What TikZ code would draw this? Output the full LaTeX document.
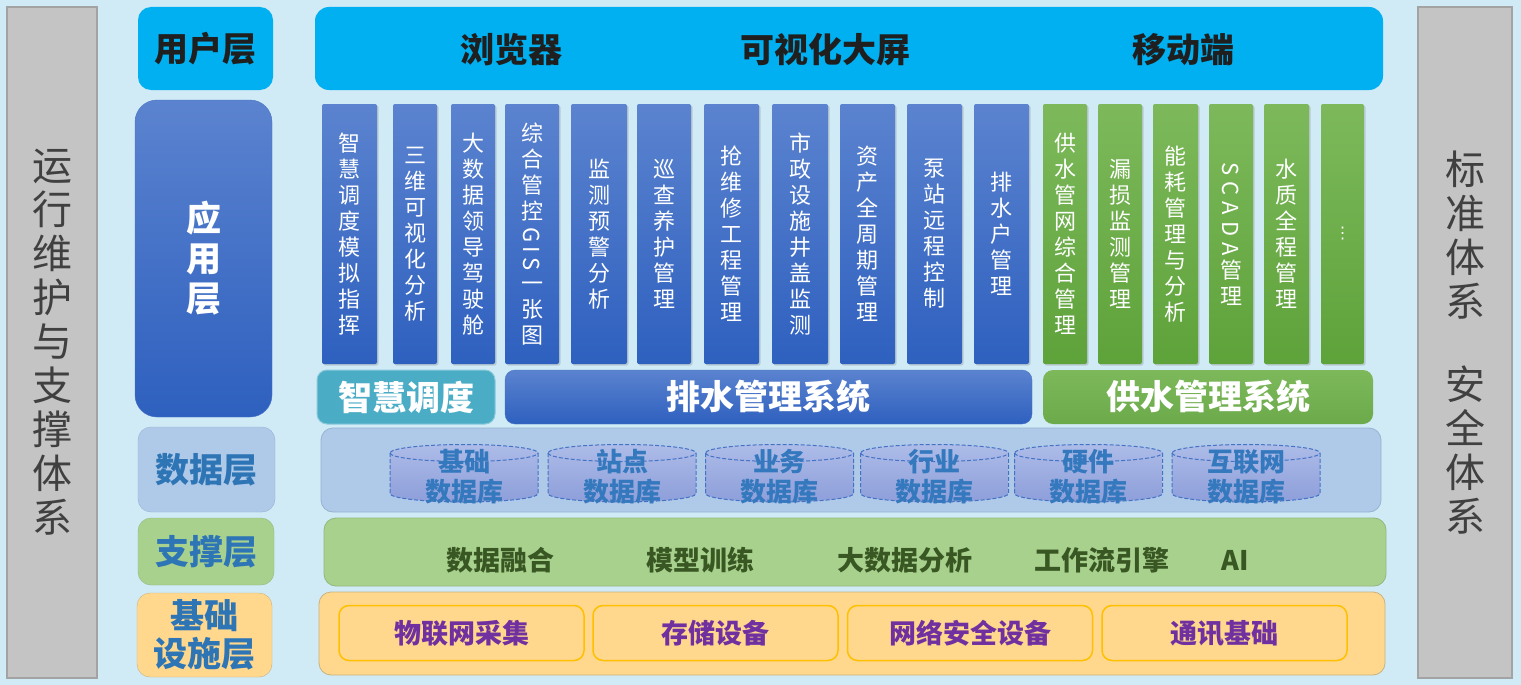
\documentclass[tikz,border=0pt]{standalone}
\usepackage{fontspec}
\usepackage{graphicx}
\setmainfont{Noto Sans CJK SC}
\newfontfamily\dejavu{DejaVu Sans}
\usetikzlibrary{shadows}
\definecolor{bg}{HTML}{D0EAF6}
\definecolor{grayfill}{HTML}{C4C4C4}
\definecolor{grayline}{HTML}{A3A3A3}
\definecolor{cyanbox}{HTML}{00B0F0}
\definecolor{appTop}{HTML}{5B83CF}
\definecolor{appBot}{HTML}{2E60BF}
\definecolor{appBorder}{HTML}{4A74C4}
\definecolor{grTop}{HTML}{7DB95B}
\definecolor{grBot}{HTML}{5EA23A}
\definecolor{tealfill}{HTML}{4BACC6}
\definecolor{tealBorder}{HTML}{8ACADB}
\definecolor{dataFill}{HTML}{AFC9E8}
\definecolor{dataBorder}{HTML}{98B2D2}
\definecolor{supFill}{HTML}{A9D18E}
\definecolor{supBorder}{HTML}{93B87C}
\definecolor{infFill}{HTML}{FFD88E}
\definecolor{infBorder}{HTML}{C9B27E}
\definecolor{gold}{HTML}{FFC000}
\definecolor{blueText}{HTML}{2E75B6}
\definecolor{cylText}{HTML}{3478BD}
\definecolor{greenText}{HTML}{385723}
\definecolor{purpleText}{HTML}{7030A0}
\definecolor{sideText}{HTML}{404040}
\definecolor{cylTop}{HTML}{ADBCE8}
\definecolor{cylBot}{HTML}{8D9EDA}
\definecolor{cylLine}{HTML}{4472C4}
\newcommand\vrot[1]{\raisebox{0.8em}{\rotatebox{-90}{#1}}}
\newcommand\colfont{\fontsize{22}{26}\selectfont\lineskip=4pt\relax\lineskiplimit=0pt\relax}
\newcommand\cyl[4]{%
  \path[top color=cylTop, bottom color=cylBot] (#2-74,453) -- (#2-74,493.5)
     arc[start angle=180, end angle=0, x radius=74, y radius=8.5] -- (#2+74,453)
     arc[start angle=0, end angle=-180, x radius=74, y radius=8.5] -- cycle;
  \draw[cylline] (#2-74,453) -- (#2-74,493.5)
     arc[start angle=180, end angle=0, x radius=74, y radius=8.5] -- (#2+74,453)
     arc[start angle=0, end angle=-180, x radius=74, y radius=8.5] -- cycle;
  \draw[cylline] (#2-74,453) arc[start angle=180, end angle=0, x radius=74, y radius=8.5];
  \node[cyltext] (#1a) at (#2,462) {#3};
  \node[cyltext] (#1b) at (#2,491.5) {#4};
}
\begin{document}
\begin{tikzpicture}[x=1pt,y=-1pt,
  every node/.style={inner sep=0pt, outer sep=0pt},
  sidebar/.style={rectangle, fill=grayfill, draw=grayline, line width=1.5pt, text=sideText, align=center, font=\fontsize{40}{44}\selectfont},
  layerlabel/.style={rectangle, rounded corners=13pt, align=center, font=\bfseries\fontsize{34}{38}\selectfont},
  bartext/.style={text=black!88, font=\bfseries\fontsize{34}{38}\selectfont},
  appcol/.style={rectangle, rounded corners=2pt, minimum height=260pt, align=center, text=white, font=\colfont,
     drop shadow={shadow xshift=1.5pt, shadow yshift=-1.5pt, opacity=0.3}},
  bluecol/.style={appcol, top color=appTop, bottom color=appBot},
  greencol/.style={appcol, top color=grTop, bottom color=grBot},
  sysbar/.style={rectangle, rounded corners=10pt, minimum height=54pt, text=white, font=\bfseries\fontsize{34}{38}\selectfont},
  panel/.style={rectangle, rounded corners=12pt, line width=0.8pt},
  cylline/.style={draw=cylLine, line width=1pt, dash pattern=on 4pt off 2pt},
  cyltext/.style={text=cylText, font=\bfseries\fontsize{26}{30}\selectfont},
  suptext/.style={text=greenText, font=\bfseries\fontsize{27}{30}\selectfont},
  infbox/.style={rectangle, rounded corners=10pt, fill=infFill, draw=gold, line width=1.5pt, minimum width=245pt, minimum height=55pt, text=purpleText, font=\bfseries\fontsize{27}{30}\selectfont}
]
\useasboundingbox (0,0) rectangle (1521,685);
\fill[bg] (0,0) rectangle (1521,685);

% side bars
\node[sidebar, minimum width=90pt, minimum height=671pt] (ops) at (52,342.5) {运\\行\\维\\护\\与\\支\\撑\\体\\系};
\node[sidebar, minimum width=94pt, minimum height=671pt] (std) at (1465,342.5) {标\\准\\体\\系\\[39pt]安\\全\\体\\系};

% user layer
\node[layerlabel, fill=cyanbox, minimum width=135pt, minimum height=83pt, text=black!88] (user) at (205.5,48.5) {用户层};
\node[rectangle, rounded corners=14pt, fill=cyanbox, minimum width=1068pt, minimum height=83pt] (userbar) at (849,48.5) {};
\node[bartext] (browser) at (511,50) {浏览器};
\node[bartext] (screen) at (825,50) {可视化大屏};
\node[bartext] (mobile) at (1183,50) {移动端};

% application layer
\node[layerlabel, rounded corners=22pt, top color=appTop, bottom color=appBot, draw=appBorder, minimum width=137pt, minimum height=317pt, text=white, font=\bfseries\fontsize{35}{40}\selectfont] (app) at (203.5,258.5) {应\\用\\层};

\node[bluecol, minimum width=55pt] (c1) at (349.5,234) {智\\慧\\调\\度\\模\\拟\\指\\挥};
\node[bluecol, minimum width=44pt] (c2) at (415,234) {三\\维\\可\\视\\化\\分\\析};
\node[bluecol, minimum width=44pt] (c3) at (473,234) {大\\数\\据\\领\\导\\驾\\驶\\舱};
\node[bluecol, minimum width=54pt] (c4) at (532,234) {综\\合\\管\\控\\\vrot{G\hspace{4pt}I\hspace{4pt}S}\\\vphantom{图}一\\张\\图};
\node[bluecol, minimum width=56pt] (c5) at (599,234) {监\\测\\预\\警\\分\\析};
\node[bluecol, minimum width=54pt] (c6) at (664,234) {巡\\查\\养\\护\\管\\理};
\node[bluecol, minimum width=55pt] (c7) at (731.5,234) {抢\\维\\修\\工\\程\\管\\理};
\node[bluecol, minimum width=56pt] (c8) at (800,234) {市\\政\\设\\施\\井\\盖\\监\\测};
\node[bluecol, minimum width=55pt] (c9) at (867.5,234) {资\\产\\全\\周\\期\\管\\理};
\node[bluecol, minimum width=55pt] (c10) at (934.5,234) {泵\\站\\远\\程\\控\\制};
\node[bluecol, minimum width=55pt] (c11) at (1001.5,234) {排\\水\\户\\管\\理};
\node[greencol, minimum width=44pt] (c12) at (1065,234) {供\\水\\管\\网\\综\\合\\管\\理};
\node[greencol, minimum width=44pt] (c13) at (1120,234) {漏\\损\\监\\测\\管\\理};
\node[greencol, minimum width=45pt] (c14) at (1175.5,234) {能\\耗\\管\\理\\与\\分\\析};
\node[greencol, minimum width=44pt] (c15) at (1231,234) {\vrot{S\hspace{6pt}C\hspace{6pt}A\hspace{6pt}D\hspace{6pt}A}\\管\\理};
\node[greencol, minimum width=45pt] (c16) at (1286.5,234) {水\\质\\全\\程\\管\\理};
\node[greencol, minimum width=43pt] (c17) at (1342.5,234) {{\dejavu\fontsize{16}{18}\selectfont ⋮}};

\node[sysbar, fill=tealfill, draw=tealBorder, line width=1pt, minimum width=178pt] (zhdd) at (406,397) {智慧调度};
\node[sysbar, top color=appTop, bottom color=appBot, draw=appBorder, minimum width=527pt] (psgl) at (768.5,397) {排水管理系统};
\node[sysbar, top color=grTop, bottom color=grBot!92!white, minimum width=330pt] (gsgl) at (1208,397) {供水管理系统};

% data layer
\node[layerlabel, fill=dataFill, draw=dataBorder, minimum width=137pt, minimum height=85pt, text=blueText] (data) at (206.5,469.5) {数据层};
\node[panel, fill=dataFill, draw=dataBorder, minimum width=1060pt, minimum height=84pt] (datapanel) at (851,470) {};
\cyl{db1}{464}{基础}{数据库}
\cyl{db2}{622}{站点}{数据库}
\cyl{db3}{779.5}{业务}{数据库}
\cyl{db4}{934.5}{行业}{数据库}
\cyl{db5}{1088.5}{硬件}{数据库}
\cyl{db6}{1246}{互联网}{数据库}

% support layer
\node[layerlabel, fill=supFill, draw=supBorder, minimum width=136pt, minimum height=67pt, text=blueText] (sup) at (206,551.5) {支撑层};
\node[panel, fill=supFill, draw=supBorder, minimum width=1062pt, minimum height=68pt] (suppanel) at (855,552) {};
\node[suptext] (s1) at (500,560) {数据融合};
\node[suptext] (s2) at (700,560) {模型训练};
\node[suptext] (s3) at (905,560) {大数据分析};
\node[suptext] (s4) at (1101.5,560) {工作流引擎};
\node[suptext] (s5) at (1235.5,560) {AI};

% infrastructure layer
\node[layerlabel, fill=infFill, draw=infBorder, minimum width=135pt, minimum height=84pt, text=blueText] (inf) at (204.5,635) {基础\\设施层};
\node[panel, fill=infFill, draw=infBorder, minimum width=1066pt, minimum height=83pt] (infpanel) at (852,633.5) {};
\node[infbox] (i1) at (461.5,633) {物联网采集};
\node[infbox] (i2) at (715.5,633) {存储设备};
\node[infbox] (i3) at (970,633) {网络安全设备};
\node[infbox] (i4) at (1224.5,633) {通讯基础};
\end{tikzpicture}
\end{document}
